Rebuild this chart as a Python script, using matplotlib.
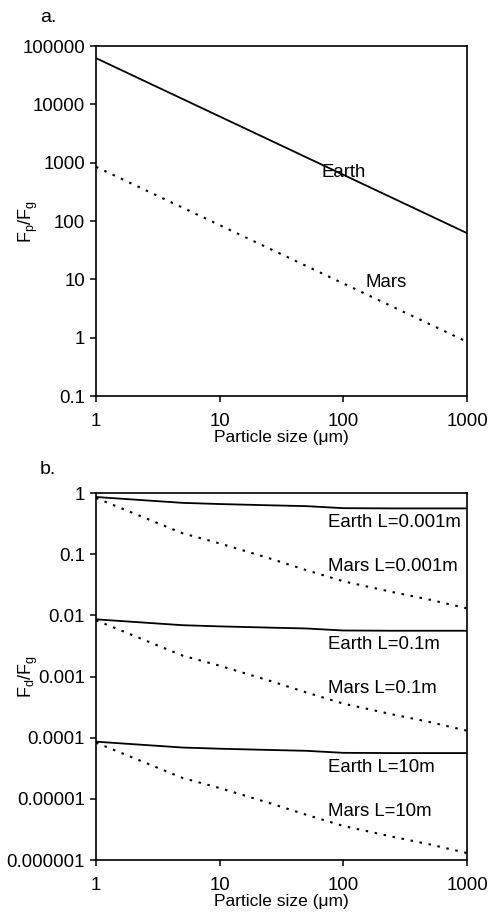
import matplotlib
matplotlib.use("Agg")
import matplotlib.pyplot as plt
import numpy as np

plt.rcParams['font.family'] = ['Liberation Sans', 'DejaVu Sans']
plt.rcParams['mathtext.fontset'] = 'custom'
plt.rcParams['mathtext.rm'] = 'Liberation Sans'

# ---- data ----
size_a = [1, 5, 10, 25, 50, 100, 250, 500, 1000]
earth_a = [62000, 12400, 6200, 2480, 1240, 620, 248, 124, 62]
mars_a = [850, 170, 85, 34, 17, 8.5, 3.4, 1.7, 0.85]

size_b = [1, 5, 10, 25, 50, 100, 250, 500, 1000]
earth_b_base = [0.86, 0.69, 0.66, 0.63, 0.61, 0.565, 0.56, 0.56, 0.56]
mars_b_base = [0.83, 0.22, 0.15, 0.086, 0.055, 0.036, 0.024, 0.018, 0.013]
L_scale = [1, 0.01, 0.0001]
earth_b_labels = ["Earth L=0.001m", "Earth L=0.1m", "Earth L=10m"]
mars_b_labels = ["Mars L=0.001m", "Mars L=0.1m", "Mars L=10m"]

xticks = [1, 10, 100, 1000]
xticklabels = ["1", "10", "100", "1000"]
yticks_a = [0.1, 1, 10, 100, 1000, 10000, 100000]
yticklabels_a = ["0.1", "1", "10", "100", "1000", "10000", "100000"]
yticks_b = [1e-6, 1e-5, 1e-4, 1e-3, 1e-2, 1e-1, 1]
yticklabels_b = ["0.000001", "0.00001", "0.0001", "0.001", "0.01", "0.1", "1"]

fig = plt.figure(figsize=(4.97, 9.15), dpi=100)
ax1 = fig.add_axes([0.1932, 0.5672, 0.7465, 0.3825])
ax2 = fig.add_axes([0.1932, 0.0601, 0.7465, 0.4011])

FS = 13.4
LFS = 12.5
YFS = 13
dots = (0, (1.2, 3.2))

def style(ax, yticks, ylabels, ylims):
    ax.set_xscale('log')
    ax.set_yscale('log')
    ax.set_xlim(1, 1000)
    ax.set_ylim(*ylims)
    ax.set_xticks(xticks)
    ax.set_xticklabels(xticklabels)
    ax.set_yticks(yticks)
    ax.set_yticklabels(ylabels)
    ax.minorticks_off()
    ax.tick_params(axis='both', which='major', direction='out', length=4.5,
                   width=1.1, labelsize=FS, top=False, right=False)
    ax.tick_params(axis='x', pad=7.5)
    ax.tick_params(axis='y', pad=3.5)
    for s in ax.spines.values():
        s.set_linewidth(1.2)
    ax.set_xlabel("Particle size (\u03bcm)", fontsize=LFS, labelpad=0)
    ax.yaxis.set_label_coords(-0.15, 0.5)

# panel a
ax1.plot(size_a, earth_a, color='black', lw=1.3)
ax1.plot(size_a, mars_a, color='black', lw=1.5, linestyle=dots)
style(ax1, yticks_a, yticklabels_a, (0.1, 100000))
ax1.set_ylabel(r'$\mathregular{F_p/F_g}$', fontsize=YFS)
ax1.text(67, 690, "Earth", fontsize=FS, ha='left', va='center')
ax1.text(152, 8.9, "Mars", fontsize=FS, ha='left', va='center')
fig.text(40 / 497, 1 - 17 / 915, "a.", fontsize=14, ha='left', va='center')

# panel b
for sc, el, ml in zip(L_scale, earth_b_labels, mars_b_labels):
    ax2.plot(size_b, [v * sc for v in earth_b_base], color='black', lw=1.3)
    ax2.plot(size_b, [v * sc for v in mars_b_base], color='black', lw=1.5, linestyle=dots)
    ax2.text(75, 0.33 * sc, el, fontsize=FS, ha='left', va='center')
    ax2.text(75, 0.063 * sc, ml, fontsize=FS, ha='left', va='center')
style(ax2, yticks_b, yticklabels_b, (1e-6, 1))
ax2.set_ylabel(r'$\mathregular{F_d/F_g}$', fontsize=YFS)
fig.text(40 / 497, 1 - 470 / 915, "b.", fontsize=14, ha='left', va='center')

fig.savefig("out.png", dpi=100)
